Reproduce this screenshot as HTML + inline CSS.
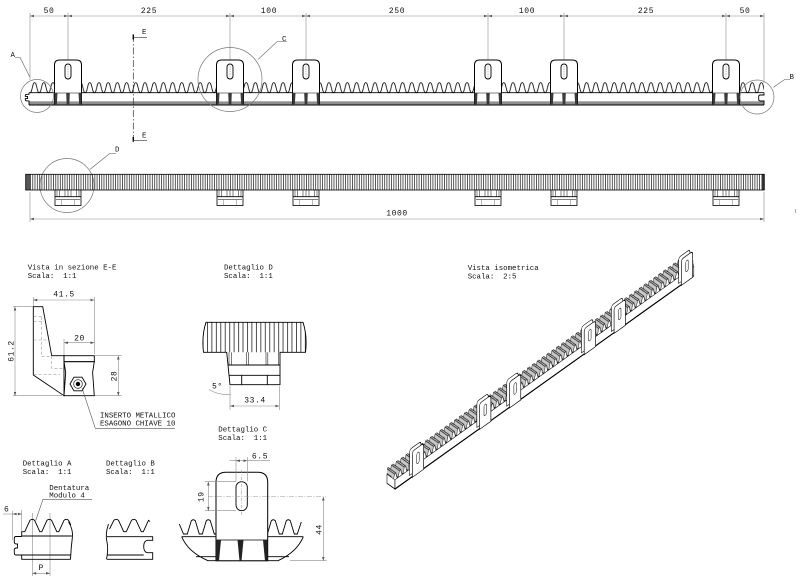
<!DOCTYPE html>
<html><head><meta charset="utf-8"><title>Cremagliera</title>
<style>
html,body{margin:0;padding:0;background:#fff;width:800px;height:582px;overflow:hidden}
svg{display:block}
text{white-space:pre}
.t{font-family:"Liberation Mono","DejaVu Sans Mono",monospace;font-size:7.4px;fill:#111}
.d{font-family:"Liberation Mono","DejaVu Sans Mono",monospace;font-size:8px;fill:#111;letter-spacing:0.6px}
.ln{stroke:#000;stroke-width:0.9;fill:none}
.dm{stroke:#8a8a8a;stroke-width:0.6;fill:none}
.hd{stroke:#9a9a9a;stroke-width:0.6;fill:none;stroke-dasharray:3 2}
</style></head><body>
<svg width="800" height="582" viewBox="0 0 800 582" xmlns="http://www.w3.org/2000/svg">
<defs>
 <marker id="a" viewBox="0 0 6 4" refX="6" refY="2" markerWidth="4" markerHeight="2.6" markerUnits="userSpaceOnUse" orient="auto-start-reverse"><path d="M0,0L6,2L0,4Z" fill="#555"/></marker>
 <pattern id="tt" patternUnits="userSpaceOnUse" x="30" y="0" width="9.2" height="120">
  <path d="M0,92.7C2.4,92.7 2.2,82.6 4.6,82.6C7,82.6 6.8,92.7 9.2,92.7" fill="none" stroke="#000" stroke-width="0.8"/>
 </pattern>
 <pattern id="hv" patternUnits="userSpaceOnUse" x="30" y="0" width="2.3" height="10">
  <rect x="0" y="0" width="0.8" height="10" fill="#333"/>
 </pattern>
 <pattern id="hdp" patternUnits="userSpaceOnUse" x="207" y="0" width="4.45" height="10">
  <rect x="0" y="0" width="0.8" height="10" fill="#222"/>
 </pattern>
 <pattern id="iso" patternUnits="userSpaceOnUse" x="0" y="-10" width="6" height="30">
  <g transform="translate(0,10)" stroke="#000" stroke-width="0.6" stroke-linejoin="round">
   <rect x="0" y="-10" width="6" height="30" fill="#fff" stroke="none"/>
   <path d="M12,16L2.12,4.6L3.72,-1.4L5.32,-1.4L15.2,10L16.8,16Z" fill="#fff" stroke="none"/>
   <path d="M12,16L2.12,4.6L3.72,-1.4L13.6,10Z" fill="#c8c8c8" stroke="none"/>
   <path d="M16.8,16L15.2,10L13.6,10L12,16L2.12,4.6L3.72,-1.4L5.32,-1.4L15.2,10M13.6,10L3.72,-1.4" fill="none"/>
   <path d="M6,16L-3.88,4.6L-2.28,-1.4L-0.68,-1.4L9.2,10L10.8,16Z" fill="#fff" stroke="none"/>
   <path d="M6,16L-3.88,4.6L-2.28,-1.4L7.6,10Z" fill="#c8c8c8" stroke="none"/>
   <path d="M10.8,16L9.2,10L7.6,10L6,16L-3.88,4.6L-2.28,-1.4L-0.68,-1.4L9.2,10M7.6,10L-2.28,-1.4" fill="none"/>
   <path d="M0,16L-9.88,4.6L-8.28,-1.4L-6.68,-1.4L3.2,10L4.8,16Z" fill="#fff" stroke="none"/>
   <path d="M0,16L-9.88,4.6L-8.28,-1.4L1.6,10Z" fill="#c8c8c8" stroke="none"/>
   <path d="M4.8,16L3.2,10L1.6,10L0,16L-9.88,4.6L-8.28,-1.4L-6.68,-1.4L3.2,10M1.6,10L-8.28,-1.4" fill="none"/>
  </g>
 </pattern>
 <clipPath id="ic"><path d="M-9.88,16L359,16L359,10L349.12,-1.4L-19.76,-1.4L-19.76,4.6Z"/></clipPath>
 <clipPath id="cd"><path d="M206,322.3H303Q307.5,336 305.5,352.3H203.5Q201.5,336 206,322.3Z"/></clipPath>
 <g id="b1">
  <path d="M-13.5,101.3V65Q-13.5,60 -8.5,60H8.5Q13.5,60 13.5,65V101.3Z" fill="#fff"/>
  <path d="M-13.5,105V65Q-13.5,60 -8.5,60H8.5Q13.5,60 13.5,65V105" fill="none" stroke="#000" stroke-width="1"/>
  <rect x="-3" y="64" width="6" height="15" rx="3" fill="#fff" stroke="#000" stroke-width="0.9"/>
  <line x1="0" y1="66" x2="0" y2="77" stroke="#777" stroke-width="0.5" stroke-dasharray="1.5 1"/>
  <line x1="-13.5" y1="93" x2="13.5" y2="93" stroke="#000" stroke-width="0.6"/>
  <path d="M-13.5,93H-10.5L-11.2,105H-13.5Z M-1.8,93H1.8L1.3,105H-1.3Z M10.5,93H13.5V105H11.2Z" fill="#3a3a3a"/>
 </g>
 <g id="b2">
  <rect x="-13" y="190" width="26" height="15.5" fill="#fff" stroke="#000" stroke-width="0.8"/>
  <path d="M-11,190.4V196.5M-8.5,190.4V196.5M-3,190.4V196.5M0,190.4V196.5M3,190.4V196.5M8.5,190.4V196.5M11,190.4V196.5" stroke="#333" stroke-width="0.6"/>
  <line x1="-13" y1="196.7" x2="13" y2="196.7" stroke="#000" stroke-width="0.8"/>
  <line x1="-12" y1="199.5" x2="12" y2="199.5" stroke="#000" stroke-width="0.6"/>
  <path d="M-6.5,199.5V205.3M6.5,199.5V205.3" stroke="#777" stroke-width="0.5"/>
 </g>
 <g id="tab">
  <path d="M-10.3,22.2V-0.8Q-10.3,-3.8 -7.3,-3.8H0.7Q3.7,-3.8 3.7,-0.8V22.2Z" fill="#fff" stroke="#000" stroke-width="0.7"/>
  <path d="M-7,26V3Q-7,0 -4,0H4Q7,0 7,3V26Z" fill="#fff" stroke="#000" stroke-width="0.8"/>
  <rect x="-1.5" y="5" width="3" height="11" rx="1.5" fill="#fff" stroke="#000" stroke-width="0.6"/>
 </g>
</defs>

<!-- ===== TOP DIMENSIONS ===== -->
<path class="dm" d="M30,13V80M68,13V60M230,13V60M306,13V60M488,13V60M564,13V60M726,13V60M764,13V83"/>
<g class="dm" marker-start="url(#a)" marker-end="url(#a)">
 <line x1="30" y1="16" x2="68" y2="16"/>
 <line x1="68" y1="16" x2="230" y2="16"/>
 <line x1="230" y1="16" x2="306" y2="16"/>
 <line x1="306" y1="16" x2="488" y2="16"/>
 <line x1="488" y1="16" x2="564" y2="16"/>
 <line x1="564" y1="16" x2="726" y2="16"/>
 <line x1="726" y1="16" x2="764" y2="16"/>
</g>
<g class="d" text-anchor="middle">
 <text x="49" y="13">50</text>
 <text x="149" y="13">225</text>
 <text x="269" y="13">100</text>
 <text x="397" y="13">250</text>
 <text x="527" y="13">100</text>
 <text x="646" y="13">225</text>
 <text x="745" y="13">50</text>
</g>

<!-- ===== TOP RACK (front view) ===== -->
<rect x="30" y="80" width="734" height="14" fill="url(#tt)"/>
<line x1="29" y1="92.7" x2="764" y2="92.7" class="ln"/>
<rect x="29" y="101.3" width="735" height="3.7" fill="#8f8f8f"/>
<line x1="29" y1="105" x2="764" y2="105" class="ln"/>
<path d="M29,92.7V94.3H26.8Q25.3,94.3 25.3,95.8V96.4H27.5V98.6H25.3V99.4Q25.3,100.9 26.8,100.9H29V105" class="ln"/>
<path d="M764,92.7V95H760.3Q758.7,95 758.7,96.6V99.4Q758.7,101 760.3,101H764V105" class="ln"/>
<use href="#b1" x="68"/>
<use href="#b1" x="230"/>
<use href="#b1" x="306"/>
<use href="#b1" x="488"/>
<use href="#b1" x="564"/>
<use href="#b1" x="726"/>

<!-- circles and labels -->
<g fill="none" stroke="#777" stroke-width="0.7">
 <circle cx="37" cy="96" r="16.5"/>
 <circle cx="757" cy="97" r="17"/>
 <circle cx="230" cy="79.5" r="32"/>
 <circle cx="67" cy="185.5" r="27"/>
 <path d="M15,57.3H20L30,77.3"/>
 <path d="M287,41.7H277L258.3,59.3"/>
 <path d="M790,79.3H785L773.3,87.3"/>
 <path d="M116,153.3H110L90,169.3"/>
</g>
<text class="t" x="10.5" y="57">A</text>
<text class="t" x="282" y="41">C</text>
<text class="t" x="789.5" y="79">B</text>
<text class="t" x="115" y="151.5">D</text>

<!-- section line E-E -->
<line x1="133.3" y1="35" x2="133.3" y2="141.5" stroke="#333" stroke-width="0.7" stroke-dasharray="7 2 1.5 2"/>
<path d="M133.3,34.5V39.5M133.3,137V141.8" stroke="#000" stroke-width="1.4"/>
<path d="M133.3,37.3H147M133.3,140.7H147" stroke="#333" stroke-width="0.7"/>
<text class="t" x="142" y="34">E</text>
<text class="t" x="142" y="137.3">E</text>

<!-- ===== SECOND RACK (top view) ===== -->
<rect x="30" y="174.3" width="731.7" height="15.7" fill="url(#hv)"/>
<rect x="25.7" y="174.3" width="4.3" height="15.7" fill="#555"/>
<rect x="761.7" y="174.3" width="2.6" height="15.7" fill="#333"/>
<rect x="25.7" y="174.3" width="738.6" height="15.7" fill="none" stroke="#000" stroke-width="0.8"/>
<use href="#b2" x="68"/>
<use href="#b2" x="230"/>
<use href="#b2" x="306"/>
<use href="#b2" x="488"/>
<use href="#b2" x="564"/>
<use href="#b2" x="726"/>
<path class="dm" d="M30,192V222M764,192V222"/>
<line class="dm" x1="30" y1="219" x2="764" y2="219" marker-start="url(#a)" marker-end="url(#a)"/>
<text class="d" x="397" y="215.5" text-anchor="middle">1000</text>
<rect x="795" y="209" width="1" height="4" fill="#aaa"/>

<!-- ===== SECTION E-E ===== -->
<text class="t" x="27.7" y="269.5">Vista in sezione E-E</text>
<text class="t" x="27.7" y="277.8">Scala:  1:1</text>
<path class="dm" d="M33.3,297V306M94.3,297V354M13,306.7H33M13,395.7H62M95,355.7H121.5M95,395.7H121.5M64,339V355"/>
<g class="dm" marker-start="url(#a)" marker-end="url(#a)">
 <line x1="33.3" y1="300" x2="94.3" y2="300"/>
 <line x1="15" y1="306.7" x2="15" y2="395.7"/>
 <line x1="64" y1="342.7" x2="94.3" y2="342.7"/>
 <line x1="118.3" y1="355.7" x2="118.3" y2="395.7"/>
</g>
<text class="d" x="64" y="296.7" text-anchor="middle">41.5</text>
<text class="d" x="79.5" y="340.5" text-anchor="middle">20</text>
<text class="d" transform="translate(13.5,351) rotate(-90)" text-anchor="middle">61.2</text>
<text class="d" transform="translate(116.7,376) rotate(-90)" text-anchor="middle">28</text>
<path d="M33.3,306.7H42.7L51.7,355.7H64V395.7L33.3,375Z" fill="#fff" class="ln"/>
<path class="hd" d="M33.5,316.7H43M33.5,321.7H44M33.5,340H47.5M41.7,316.7V356M41.7,356.7H51.7M51.7,356V368.3H64M33.5,374.3H60"/>
<rect x="64" y="355.7" width="30.3" height="6" fill="#fff" class="ln"/>
<path d="M64,361.7H94.3L92.6,372.5L94.3,395.7H64L65.7,372.5Z" fill="#8d8d8d" class="ln"/>
<path d="M70,384L74,377.2H82L86,384L82,390.8H74Z" fill="#fff" stroke="#000" stroke-width="0.9"/>
<circle cx="78" cy="384" r="4.3" fill="#fff" stroke="#000" stroke-width="0.6"/>
<circle cx="78" cy="384" r="2.2" fill="#000"/>
<path d="M82,388L95.3,428.3H175" stroke="#555" stroke-width="0.6" fill="none"/>
<text class="t" x="100" y="417.3">INSERTO METALLICO</text>
<text class="t" x="100" y="425.7">ESAGONO CHIAVE 10</text>

<!-- ===== DETAIL D ===== -->
<text class="t" x="224" y="269.5">Dettaglio D</text>
<text class="t" x="224" y="277.8">Scala:  1:1</text>
<path d="M206,322.3H303Q307.5,336 305.5,352.3H280V384.7H230L226.7,352.3H203.5Q201.5,336 206,322.3Z" fill="#fff"/>
<rect x="200" y="322" width="110" height="31" fill="url(#hdp)" clip-path="url(#cd)"/>
<path d="M229,352.3V365M231.7,352.3V365M246.7,352.3V365M248.5,352.3V365M266,352.3V365M267.8,352.3V365M278.3,352.3V365" stroke="#222" stroke-width="0.6"/>
<path d="M206,322.3H303Q307.5,336 305.5,352.3H280V384.7H230L226.7,352.3H203.5Q201.5,336 206,322.3Z" class="ln"/>
<path d="M228,365H280M229.5,375.3H280M241.7,375.3V384.7M267.3,375.3V384.7" class="ln" stroke-width="0.7"/>
<path class="dm" d="M230,386V410M279.3,386V410"/>
<line class="dm" x1="230" y1="406" x2="279.3" y2="406" marker-start="url(#a)" marker-end="url(#a)"/>
<text class="d" x="255" y="402.5" text-anchor="middle">33.4</text>
<text class="d" x="212" y="388.5">5°</text>
<path d="M209,389.5Q219,395.5 231,394.5" class="dm"/>

<!-- ===== ISOMETRIC ===== -->
<text class="t" x="467.7" y="270">Vista isometrica</text>
<text class="t" x="467.7" y="278.3">Scala:  2:5</text>
<g transform="matrix(0.81,-0.578,0,1,403,458)">
 <path d="M-9.88,16L-9.88,25.3L-19.76,13.9L-19.76,4.6Z" fill="#fff" stroke="#000" stroke-width="0.7"/>
 <rect x="-20" y="-2" width="380" height="18" fill="url(#iso)" clip-path="url(#ic)"/>
 <rect x="-9.88" y="16" width="368.88" height="9.3" fill="#fff" stroke="#000" stroke-width="0.7"/>
 <line x1="-9.88" y1="25.3" x2="359" y2="25.3" stroke="#000" stroke-width="1.4"/>
 <use href="#tab" x="18.5"/>
 <use href="#tab" x="101.5"/>
 <use href="#tab" x="138.4"/>
 <use href="#tab" x="230.7"/>
 <use href="#tab" x="267.6"/>
 <use href="#tab" x="350.6"/>
</g>

<!-- ===== DETAIL A ===== -->
<text class="t" x="22.7" y="465.3">Dettaglio A</text>
<text class="t" x="22.7" y="474">Scala:  1:1</text>
<text class="t" x="49.3" y="490">Dentatura</text>
<text class="t" x="49.3" y="497.7">Modulo 4</text>
<path d="M92,499.3H43L35.7,520.5" stroke="#555" stroke-width="0.6" fill="none"/>
<path class="dm" d="M12.7,510.7V540M21.7,510V531M32.3,513V576M50,513V576"/>
<line class="dm" x1="3" y1="514" x2="12.7" y2="514"/>
<line class="dm" x1="12.7" y1="514" x2="21.7" y2="514" marker-start="url(#a)" marker-end="url(#a)"/>
<line class="dm" x1="32.3" y1="573.3" x2="50" y2="573.3" marker-start="url(#a)" marker-end="url(#a)"/>
<text class="d" x="4" y="511.5">6</text>
<text class="d" x="41.2" y="570" text-anchor="middle">P</text>
<path d="M21.7,536V531.7H24.8L30,520.3Q32.3,518.3 34.6,520.3L39.8,531.7H41.8L47,520.3Q49.3,518.3 51.6,520.3L56.8,531.7H58.8L64,520.3Q66.3,518.3 68.6,520.3L70.8,525" class="ln"/>
<path d="M68.5,521.7Q73.5,530 72.3,538Q71,548 70.5,559.3" class="ln" stroke-width="0.7"/>
<path d="M21.7,536H71.8M21.7,536.5H16Q14.3,536.5 14.3,538.5V542Q14.3,544 16.5,544H17.5V548H16.5Q14.3,548 14.3,550V553Q14.3,555 16,555H21.7V559.3H70.7M21.7,555H71" class="ln"/>

<!-- ===== DETAIL B ===== -->
<text class="t" x="106" y="465.3">Dettaglio B</text>
<text class="t" x="106" y="474">Scala:  1:1</text>
<path d="M109.5,529L113.9,520.3Q116.2,518.3 118.5,520.3L123.7,531.7H126.3L131.5,520.3Q133.8,518.3 136.1,520.3L141.3,531.7H143.3L148.5,520.3L150,521.5" class="ln"/>
<path d="M108.5,524Q105,534 107,542Q108.5,549 106.5,559.3" class="ln" stroke-width="0.7"/>
<path d="M107,536.7H152.7V540.3H147.3Q143.7,541 143.7,546.5Q143.7,552 147.3,552.7H152.7V559.3H107M107,555H143.7" class="ln"/>

<!-- ===== DETAIL C ===== -->
<text class="t" x="218.3" y="431.7">Dettaglio C</text>
<text class="t" x="218.3" y="440">Scala:  1:1</text>
<path d="M179.3,524L183.5,534H187.3L191.3,520.7Q193.3,518.8 195.3,520.7L199.3,534H202.3L206.3,520.7Q208.3,518.8 210.3,520.7L214.3,534H216" class="ln"/>
<path d="M267.7,533L271.3,520.7Q273.3,518.8 275.3,520.7L279.3,534H282.3L286.3,520.7Q288.3,518.8 290.3,520.7L294.3,534H297.3L301.3,522" class="ln"/>
<path d="M181.7,536.7H303.3M181.7,536.7Q188,552 208,560.7H278Q297,552 303.3,536.7M196,556.7H289" class="ln" stroke-width="0.8"/>
<path d="M216,560.7V482.3Q216,472.3 226,472.3H257.7Q267.7,472.3 267.7,482.3V560.7Z" fill="#fff" stroke="#000" stroke-width="1"/>
<line x1="216" y1="540" x2="267.7" y2="540" stroke="#000" stroke-width="0.8"/>
<path d="M216,540H221L219,560.7H216Z M237.5,540H243.5L241.5,560.7H239.5Z M263,540H267.7V560.7H265Z" fill="#222"/>
<rect x="236" y="481.7" width="11.3" height="29" rx="5.6" fill="#fff" stroke="#000" stroke-width="0.9"/>
<path d="M241.7,470V516" stroke="#888" stroke-width="0.5" stroke-dasharray="3 1.5 1 1.5"/>
<path d="M208,496.7H326" stroke="#999" stroke-width="0.5" stroke-dasharray="5 1.5 1 1.5"/>
<path class="dm" d="M236,457V481M247.3,457V481M205,481.7H236M205,510.7H236M290,560.7H326.7"/>
<line class="dm" x1="229.3" y1="460.7" x2="236" y2="460.7"/>
<line class="dm" x1="236" y1="460.7" x2="247.3" y2="460.7" marker-start="url(#a)" marker-end="url(#a)"/>
<line class="dm" x1="247.3" y1="460.7" x2="270" y2="460.7"/>
<line class="dm" x1="208.3" y1="481.7" x2="208.3" y2="510.7" marker-start="url(#a)" marker-end="url(#a)"/>
<line class="dm" x1="323.3" y1="496.7" x2="323.3" y2="560.7" marker-start="url(#a)" marker-end="url(#a)"/>
<text class="d" x="260" y="458.3" text-anchor="middle">6.5</text>
<text class="d" transform="translate(203.5,496.7) rotate(-90)" text-anchor="middle">19</text>
<text class="d" transform="translate(321.7,529.5) rotate(-90)" text-anchor="middle">44</text>
</svg>
</body></html>
